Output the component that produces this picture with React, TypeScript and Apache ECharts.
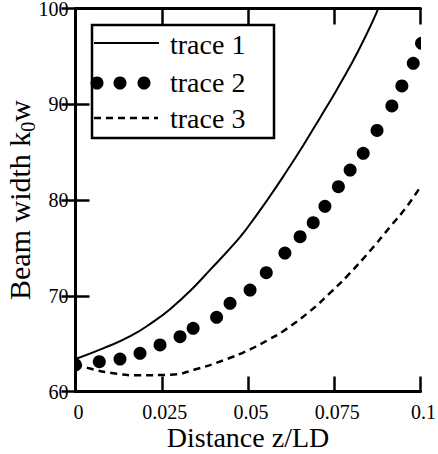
import React, { useEffect, useRef } from "react";
import * as echarts from "echarts";

const FONT = '"Liberation Serif", "DejaVu Serif", serif';

const xTickLabels = ["0", "0.025", "0.05", "0.075", "0.1"];
const yTickLabels = ["60", "70", "80", "90", "100"];

const trace1X = [0, 0.008, 0.016, 0.0226, 0.0274, 0.0332, 0.039, 0.0467, 0.0496, 0.0554, 0.0612, 0.066, 0.0709, 0.0757, 0.0801, 0.0834, 0.0873, 0.0878];
const trace1Y = [63.4, 64.5, 65.8, 67.3, 68.6, 70.5, 72.7, 75.7, 77.0, 79.9, 83.0, 85.7, 88.6, 91.5, 94.3, 96.6, 99.6, 100.2];

const trace2X = [0, 0.0069, 0.0129, 0.0187, 0.0245, 0.0303, 0.0341, 0.0409, 0.0448, 0.0506, 0.0553, 0.0607, 0.0651, 0.0689, 0.0723, 0.0762, 0.0796, 0.0834, 0.0874, 0.0917, 0.0946, 0.0979, 0.1003];
const trace2Y = [62.77, 63.11, 63.39, 63.99, 64.86, 65.72, 66.6, 67.75, 69.21, 70.6, 72.41, 74.46, 76.17, 77.63, 79.34, 81.39, 83.13, 84.88, 87.26, 89.82, 91.91, 94.28, 96.37];

const trace3X = [0, 0.0042, 0.011, 0.0177, 0.0274, 0.0351, 0.0428, 0.0506, 0.0564, 0.0602, 0.068, 0.0738, 0.0786, 0.0854, 0.0912, 0.096, 0.1];
const trace3Y = [62.9, 62.4, 61.9, 61.7, 61.75, 62.35, 63.25, 64.4, 65.5, 66.3, 68.4, 70.3, 72.0, 74.7, 77.2, 79.3, 81.4];

const seriesNames = ["trace 1", "trace 2", "trace 3"];

const zip = (xs: number[], ys: number[]) => xs.map((x, i) => [x, ys[i]]);

export default function App() {
  const ref = useRef<HTMLDivElement>(null);
  useEffect(() => {
    document.body.style.margin = "0";
    if (!ref.current) return;
    const chart = echarts.init(ref.current, null, { renderer: "svg" });
    const axisLine = { show: true, lineStyle: { color: "#000", width: 3 } };
    const tick = (len: number) => ({ show: true, inside: true, length: len, lineStyle: { color: "#000", width: 2.5 } });
    const labelStyle = { color: "#000", fontFamily: FONT, fontSize: 20, lineHeight: 16 };
    chart.setOption({
      animation: false,
      backgroundColor: "#fff",
      grid: { left: 75.5, right: 17.5, top: 8.5, bottom: 62.5, containLabel: false, outerBoundsMode: "none" },
      xAxis: [
        {
          type: "value", min: 0, max: 0.1, interval: 0.025, position: "bottom",
          axisLine, axisTick: tick(15), splitLine: { show: false },
          axisLabel: { ...labelStyle, margin: 12.5, padding: [0, 0, 0, 6], formatter: (v: number, i: number) => xTickLabels[i] ?? String(v) },
          name: "Distance z/LD", nameLocation: "middle", nameGap: 35, nameMoveOverlap: false,
          nameTextStyle: { color: "#000", fontFamily: FONT, fontSize: 28, lineHeight: 22 },
        },
        {
          type: "value", min: 0, max: 0.1, interval: 0.025, position: "top",
          axisLine, axisTick: tick(16), splitLine: { show: false }, axisLabel: { show: false },
        },
      ],
      yAxis: [
        {
          type: "value", min: 60, max: 100, interval: 10, position: "left",
          axisLine, axisTick: tick(14), splitLine: { show: false },
          axisLabel: { ...labelStyle, margin: 7, padding: [6, 0, 0, 0], formatter: (v: number, i: number) => yTickLabels[i] ?? String(v) },
          name: "Beam width k{sub|0}w", nameLocation: "middle", nameGap: 41, nameMoveOverlap: false,
          nameTextStyle: {
            color: "#000", fontFamily: FONT, fontSize: 30, lineHeight: 30,
            rich: { sub: { color: "#000", fontFamily: FONT, fontSize: 20, lineHeight: 20, padding: [16, 0, 0, 0] } },
          },
        },
        {
          type: "value", min: 60, max: 100, interval: 10, position: "right",
          axisLine, axisTick: tick(14), splitLine: { show: false }, axisLabel: { show: false },
        },
      ],
      series: [
        {
          name: seriesNames[0], type: "line", data: zip(trace1X, trace1Y), smooth: 0.5, showSymbol: false, clip: true,
          lineStyle: { color: "#000", width: 2 },
        },
        {
          name: seriesNames[1], type: "custom", data: zip(trace2X, trace2Y), clip: true,
          encode: { x: 0, y: 1 },
          renderItem: (params: any, api: any) => {
            const p = api.coord([api.value(0), api.value(1)]);
            return { type: "circle", shape: { cx: p[0], cy: p[1], r: 6.5 }, style: { fill: "#000" } };
          },
        },
        {
          name: seriesNames[2], type: "line", data: zip(trace3X, trace3Y), smooth: 0.5, showSymbol: false, clip: true,
          lineStyle: { color: "#000", width: 2.5, type: [7, 5] },
        },
      ],
      graphic: [
        {
          type: "group", z: 100,
          children: [
            { type: "rect", shape: { x: 92, y: 25, width: 182, height: 113 }, style: { fill: "#fff", stroke: "#000", lineWidth: 2.5 } },
            { type: "line", shape: { x1: 94, y1: 43, x2: 159, y2: 43 }, style: { stroke: "#000", lineWidth: 2 } },
            { type: "circle", shape: { cx: 97, cy: 83, r: 6.5 }, style: { fill: "#000" } },
            { type: "circle", shape: { cx: 120, cy: 83, r: 6.5 }, style: { fill: "#000" } },
            { type: "circle", shape: { cx: 144, cy: 83, r: 6.5 }, style: { fill: "#000" } },
            { type: "line", shape: { x1: 94, y1: 118, x2: 158, y2: 118 }, style: { stroke: "#000", lineWidth: 2.5, lineDash: [7, 5] } },
            { type: "text", x: 170, y: 44, style: { text: seriesNames[0], fill: "#000", fontFamily: FONT, fontSize: 28, verticalAlign: "middle" } },
            { type: "text", x: 170, y: 82, style: { text: seriesNames[1], fill: "#000", fontFamily: FONT, fontSize: 28, verticalAlign: "middle" } },
            { type: "text", x: 170, y: 118, style: { text: seriesNames[2], fill: "#000", fontFamily: FONT, fontSize: 28, verticalAlign: "middle" } },
          ],
        },
      ],
    });
    return () => chart.dispose();
  }, []);
  return <div ref={ref} style={{ width: 438, height: 454 }} />;
}
